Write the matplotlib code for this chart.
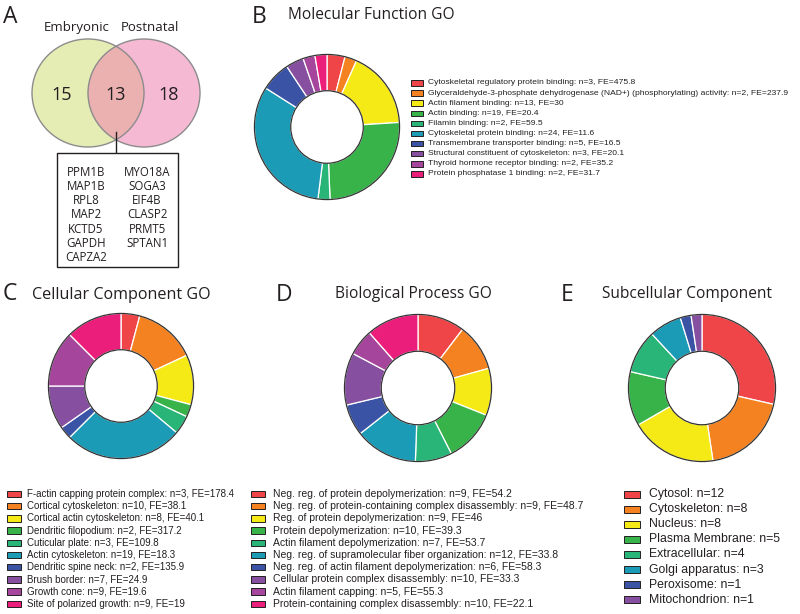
import matplotlib
matplotlib.use("Agg")
import matplotlib.pyplot as plt
from matplotlib.patches import Ellipse, Rectangle, Circle

# ---------------- data ----------------
venn_sets = ["Embryonic", "Postnatal"]
venn_counts = [15, 13, 18]  # only embryonic, shared, only postnatal
shared_genes_left = ["PPM1B", "MAP1B", "RPL8", "MAP2", "KCTD5", "GAPDH", "CAPZA2"]
shared_genes_right = ["MYO18A", "SOGA3", "EIF4B", "CLASP2", "PRMT5", "SPTAN1"]

mf_labels = ["Cytoskeletal regulatory protein binding",
             "Glyceraldehyde-3-phosphate dehydrogenase (NAD+) (phosphorylating) activity",
             "Actin filament binding", "Actin binding", "Filamin binding",
             "Cytoskeletal protein binding", "Transmembrane transporter binding",
             "Structural constituent of cytoskeleton", "Thyroid hormone receptor binding",
             "Protein phosphatase 1 binding"]
mf_n = [3, 2, 13, 19, 2, 24, 5, 3, 2, 2]
mf_fe = ["475.8", "237.9", "30", "20.4", "59.5", "11.6", "16.5", "20.1", "35.2", "31.7"]

cc_labels = ["F-actin capping protein complex", "Cortical cytoskeleton",
             "Cortical actin cytoskeleton", "Dendritic filopodium", "Cuticular plate",
             "Actin cytoskeleton", "Dendritic spine neck", "Brush border",
             "Growth cone", "Site of polarized growth"]
cc_n = [3, 10, 8, 2, 3, 19, 2, 7, 9, 9]
cc_fe = ["178.4", "38.1", "40.1", "317.2", "109.8", "18.3", "135.9", "24.9", "19.6", "19"]

bp_labels = ["Neg. reg. of protein depolymerization",
             "Neg. reg. of protein-containing complex disassembly",
             "Reg. of protein depolymerization", "Protein depolymerization",
             "Actin filament depolymerization",
             "Neg. reg. of supramolecular fiber organization",
             "Neg. reg. of actin filament depolymerization",
             "Cellular protein complex disassembly", "Actin filament capping",
             "Protein-containing complex disassembly"]
bp_n = [9, 9, 9, 10, 7, 12, 6, 10, 5, 10]
bp_fe = ["54.2", "48.7", "46", "39.3", "53.7", "33.8", "58.3", "33.3", "55.3", "22.1"]

sc_labels = ["Cytosol", "Cytoskeleton", "Nucleus", "Plasma Membrane", "Extracellular",
             "Golgi apparatus", "Peroxisome", "Mitochondrion"]
sc_n = [12, 8, 8, 5, 4, 3, 1, 1]

palette = ["#ef4548", "#f58220", "#f6ea16", "#37b34a", "#28b577",
           "#1b9bb5", "#3a53a4", "#864f9f", "#a5459b", "#ec1e7b"]

# ---------------- figure ----------------
W, H = 800, 614
fig = plt.figure(figsize=(W / 100, H / 100), dpi=100)
ax = fig.add_axes([0, 0, 1, 1])
ax.set_xlim(0, W)
ax.set_ylim(H, 0)
ax.axis("off")

TF = "Open Sans"
LF = "Liberation Sans"
dark = "#231f20"

# panel letters
for letter, (x, y) in zip("ABCDE", [(3, 23), (252, 23), (3, 300), (276, 301), (561, 301)]):
    ax.text(x, y, letter, fontsize=16.5, family=TF, color=dark, ha="left", va="baseline")

# titles
titles = [("Molecular Function GO", 288, 19, 11.2), ("Cellular Component GO", 32, 299, 11.6),
          ("Biological Process GO", 335, 298, 11.2), ("Subcellular Component", 602, 298, 11.2)]
for t, x, y, fs in titles:
    ax.text(x, y, t, fontsize=fs, family=TF, color=dark, ha="left", va="baseline")

# ---------------- Venn ----------------
lc = (88, 93)
rc = (144, 93)
ew, eh = 112, 108
left = Ellipse(lc, ew, eh, facecolor="#e5edb4", edgecolor="none", zorder=1)
right = Ellipse(rc, ew, eh, facecolor="#f6b9d3", edgecolor="none", zorder=1)
ax.add_patch(left)
ax.add_patch(right)
clipper = Ellipse(rc, ew, eh, facecolor="none", edgecolor="none")
ax.add_patch(clipper)
ov = Ellipse(lc, ew, eh, facecolor="#ebb1b0", edgecolor="none", zorder=2)
ax.add_patch(ov)
ov.set_clip_path(clipper)
for c in (lc, rc):
    ax.add_patch(Ellipse(c, ew, eh, facecolor="none", edgecolor="#8c8c8c", lw=1.0, zorder=3))

ax.text(77, 31, venn_sets[0], fontsize=9.5, family=TF, color=dark, ha="center", va="baseline")
ax.text(150, 31, venn_sets[1], fontsize=9.5, family=TF, color=dark, ha="center", va="baseline")
for val, x in zip(venn_counts, [62, 116, 169]):
    ax.text(x, 95, str(val), fontsize=13, family=TF, color=dark, ha="center", va="center", zorder=4)

ax.plot([116, 116], [132, 153], color=dark, lw=1.0, zorder=4)
ax.add_patch(Rectangle((57, 153), 121, 114, facecolor="white", edgecolor=dark, lw=1.0, zorder=4))
for i, g in enumerate(shared_genes_left):
    ax.text(86, 172 + i * 14.3, g, fontsize=8.3, family=TF, color=dark, ha="center", va="center", zorder=5)
for i, g in enumerate(shared_genes_right):
    ax.text(147, 172 + i * 14.3, g, fontsize=8.3, family=TF, color=dark, ha="center", va="center", zorder=5)

# ---------------- donuts ----------------
def donut(cx, cy, r, values, colors):
    a = fig.add_axes([(cx - r) / W, 1 - (cy + r) / H, 2 * r / W, 2 * r / H])
    a.pie(values, colors=colors, startangle=90, counterclock=False, radius=1.0,
          wedgeprops=dict(width=0.5, edgecolor="white", linewidth=0.9))
    a.add_patch(Circle((0, 0), 1.0, facecolor="none", edgecolor="#333333", lw=0.9))
    a.add_patch(Circle((0, 0), 0.5, facecolor="none", edgecolor="#333333", lw=0.9))
    a.set_xlim(-1.02, 1.02)
    a.set_ylim(-1.02, 1.02)
    a.set_aspect("equal")
    a.axis("off")

donut(327, 127, 74, mf_n, palette)
donut(121, 386, 74, cc_n, palette)
donut(418, 388, 75, bp_n, palette)
donut(702, 388, 75, sc_n, palette[:8])

# ---------------- legends ----------------
def legend(x0, y0, dy, pw, ph, tx, labels, colors, fs):
    for i, (lab, col) in enumerate(zip(labels, colors)):
        y = y0 + i * dy
        ax.add_patch(Rectangle((x0, y - ph / 2), pw, ph, facecolor=col, edgecolor=dark, lw=0.7))
        ax.text(tx, y, lab, fontsize=fs, family=LF, color=dark, ha="left", va="center")

mf_text = [f"{l}: n={n}, FE={f}" for l, n, f in zip(mf_labels, mf_n, mf_fe)]
cc_text = [f"{l}: n={n}, FE={f}" for l, n, f in zip(cc_labels, cc_n, cc_fe)]
bp_text = [f"{l}: n={n}, FE={f}" for l, n, f in zip(bp_labels, bp_n, bp_fe)]
sc_text = [f"{l}: n={n}" for l, n in zip(sc_labels, sc_n)]

legend(411, 83, 10.1, 12, 5.5, 428, mf_text, palette, 6.1)
legend(7, 494, 12.2, 14, 6.5, 27, cc_text, palette, 7.0)
legend(251, 494, 12.2, 14, 6.5, 273, bp_text, palette, 7.5)
legend(624, 494, 15.1, 16, 7, 649, sc_text, palette[:8], 8.85)

fig.savefig("out.png", dpi=100)
